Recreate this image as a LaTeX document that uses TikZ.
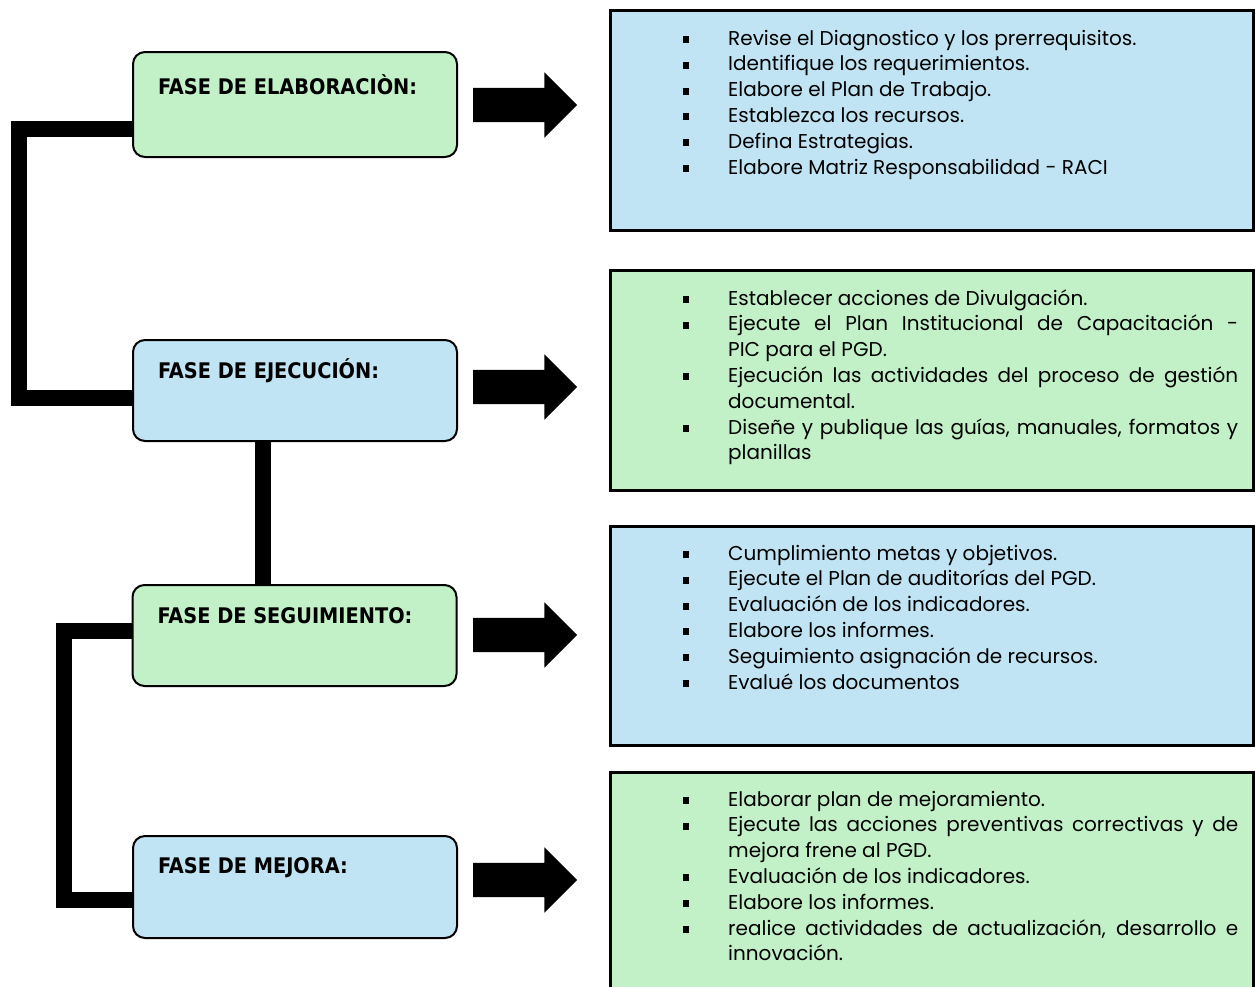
\documentclass[tikz,border=0pt]{standalone}
\usepackage{fontspec}
\setmainfont{Poppins}
\newfontfamily\fasefont{DejaVu Sans Condensed}
\usetikzlibrary{positioning,shapes.arrows,backgrounds}
\definecolor{verde}{RGB}{194,240,199}
\definecolor{azul}{RGB}{192,228,243}
\newcommand{\pasos}[1]{\hyphenpenalty=10000\relax\exhyphenpenalty=10000\relax
  \begin{list}{\rule[2pt]{6pt}{7pt}}{\setlength\leftmargin{56pt}\setlength\labelwidth{6pt}\setlength\labelsep{39pt}\setlength\itemsep{0pt}\setlength\parsep{0pt}\setlength\topsep{0pt}}#1\end{list}}
\tikzset{
  fase/.style={draw,line width=2pt,rounded corners=12pt,minimum width=324pt,inner sep=0pt,outer sep=0pt},
  fasetxt/.style={font=\fasefont\bfseries\fontsize{21.5}{24}\selectfont,anchor=west,inner sep=0pt},
  caja/.style={draw,line width=3pt,minimum width=643pt,inner sep=0pt,outer sep=0pt},
  lista/.style={anchor=north west,inner sep=0pt,text width=566pt,align=justify,
    font=\fontsize{20}{25.8}\selectfont},
  flecha/.style={single arrow,fill=black,minimum height=104pt,inner xsep=0pt,inner ysep=17pt,
    single arrow head extend=15.5pt}
  ,enlace/.style={line width=16pt,line join=miter}
}
\begin{document}
\begin{tikzpicture}[x=1pt,y=-1pt]
  \useasboundingbox (0,0) rectangle (1255,986);
  \node[fase,fill=verde,minimum height=105pt] (e1) at (295,104.5) {};
  \node[fase,fill=azul,minimum height=101pt] (e2) at (295,390.5) {};
  \node[fase,fill=verde,minimum height=101pt] (e3) at (294.5,635.5) {};
  \node[fase,fill=azul,minimum height=102pt] (e4) at (295,887) {};
  \node[fasetxt] (t1) at ([xshift=25pt,yshift=-33pt]e1.north west) {FASE DE ELABORACIÒN:};
  \node[fasetxt] (t2) at ([xshift=25pt,yshift=-31pt]e2.north west) {FASE DE EJECUCIÓN:};
  \node[fasetxt] (t3) at ([xshift=25pt,yshift=-31pt]e3.north west) {FASE DE SEGUIMIENTO:};
  \node[fasetxt] (t4) at ([xshift=25pt,yshift=-32pt]e4.north west) {FASE DE MEJORA:};
  \node[flecha] (a1) at (516.5,105) {};
  \node[flecha] (a2) at (516.5,387) {};
  \node[flecha] (a3) at (516.5,635) {};
  \node[flecha] (a4) at (516.5,880) {};
  \node[caja,fill=azul,minimum height=220pt] (r1) at (931.5,120) {};
  \node[caja,fill=verde,minimum height=220pt] (r2) at (931.5,380) {};
  \node[caja,fill=azul,minimum height=219pt] (r3) at (931.5,635.5) {};
  \node[caja,fill=verde,minimum height=233pt] (r4) at (931.5,888.5) {};
  \node[lista] (l1) at ([xshift=62pt,yshift=-9pt]r1.north west) {\pasos{
    \item Revise el Diagnostico y los prerrequisitos.
    \item Identifique los requerimientos.
    \item Elabore el Plan de Trabajo.
    \item Establezca los recursos.
    \item Defina Estrategias.
    \item Elabore Matriz Responsabilidad - RACI}};
  \node[lista] (l2) at ([xshift=62pt,yshift=-9pt]r2.north west) {\pasos{
    \item Establecer acciones de Divulgación.
    \item Ejecute el Plan Institucional de Capacitación -\linebreak PIC para el PGD.
    \item Ejecución las actividades del proceso de gestión\linebreak documental.
    \item Diseñe y publique las guías, manuales, formatos y\linebreak planillas}};
  \node[lista] (l3) at ([xshift=62pt,yshift=-8pt]r3.north west) {\pasos{
    \item Cumplimiento metas y objetivos.
    \item Ejecute el Plan de auditorías del PGD.
    \item Evaluación de los indicadores.
    \item Elabore los informes.
    \item Seguimiento asignación de recursos.
    \item Evalué los documentos}};
  \node[lista] (l4) at ([xshift=62pt,yshift=-8pt]r4.north west) {\pasos{
    \item Elaborar plan de mejoramiento.
    \item Ejecute las acciones preventivas correctivas y de\linebreak mejora frene al PGD.
    \item Evaluación de los indicadores.
    \item Elabore los informes.
    \item realice actividades de actualización, desarrollo e\linebreak innovación.}};
  \begin{scope}[on background layer]
    \draw[enlace] ([yshift=-24pt]e1.west) -- ++(-114.5,0) |- ([yshift=-7.5pt]e2.west);
    \draw[enlace] ([xshift=-32.5pt]e2.south) -- ([xshift=-32.5pt]e2.south |- e3.north);
    \draw[enlace] ([yshift=4.5pt]e3.west) -- ++(-68.5,0) |- ([yshift=-13pt]e4.west);
  \end{scope}
\end{tikzpicture}
\end{document}
